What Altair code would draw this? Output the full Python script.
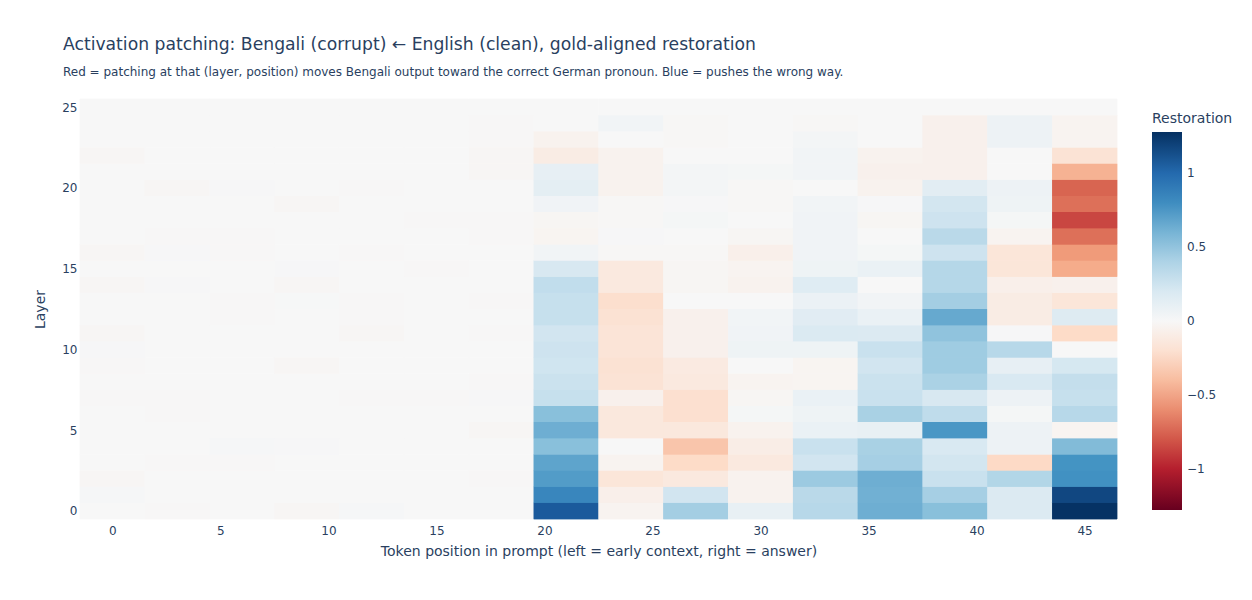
import altair as alt
import pandas as pd

# ---- data ----
positions = [0, 3, 6, 9, 12, 15, 18, 21, 24, 27, 30, 33, 36, 39, 42, 45]
layers = list(range(26))

# restoration values per token position, layer 0 -> 25
pos_0 = [0.0, 0.015, -0.015, 0.0, 0.0, 0.0, 0.0, -0.008, 0.0, -0.008, 0.008, -0.015, 0.0,
         0.0, -0.015, 0.0, -0.015, 0.0, 0.0, 0.0, 0.0, 0.0, -0.015, 0.0, 0.0, 0.0]
pos_3 = [-0.008, 0.0, 0.0, -0.008, 0.0, 0.0, -0.008, -0.008, 0.0, 0.0, 0.0, 0.0, 0.0,
         0.0, 0.008, 0.0, 0.008, -0.008, 0.0, 0.0, -0.015, 0.0, 0.0, 0.0, 0.0, 0.0]
pos_6 = [0.0, 0.0, 0.0, -0.005, 0.015, 0.0, 0.0, 0.0, 0.0, 0.0, 0.0, 0.0, -0.005,
         -0.005, 0.0, 0.0, -0.008, -0.008, 0.0, 0.0, 0.008, 0.0, 0.0, 0.0, 0.0, 0.0]
pos_9 = [-0.015, 0.0, 0.0, 0.0, 0.008, 0.0, 0.0, 0.0, 0.0, -0.015, 0.0, 0.0, 0.0,
         0.005, -0.015, 0.008, 0.0, 0.0, 0.0, -0.015, 0.0, 0.0, 0.0, 0.0, 0.0, 0.0]
pos_12 = [0.015, 0.0, 0.0, 0.0, 0.0, 0.0, 0.0, -0.008, 0.0, 0.0, 0.0, -0.015, -0.005,
          -0.008, 0.0, 0.0, -0.008, 0.0, 0.0, 0.0, -0.008, 0.0, 0.0, 0.0, 0.0, 0.0]
pos_15 = [0.0, 0.0, 0.0, 0.0, 0.0, 0.0, 0.0, -0.008, 0.0, 0.0, 0.0, 0.0, 0.0,
          0.0, 0.0, -0.008, 0.0, 0.0, -0.008, 0.0, 0.0, 0.0, 0.0, 0.0, 0.0, 0.0]
pos_18 = [0.0, 0.0, -0.008, 0.0, 0.0, -0.015, 0.0, 0.008, -0.008, 0.0, 0.0, -0.005, 0.0,
          -0.008, 0.0, 0.0, 0.0, -0.008, -0.008, 0.0, 0.0, -0.015, -0.015, -0.008, -0.008, 0.0]
pos_21 = [1.08, 0.84, 0.72, 0.68, 0.54, 0.63, 0.54, 0.30, 0.28, 0.26, 0.27, 0.25, 0.30,
          0.30, 0.32, 0.21, 0.04, -0.03, -0.02, 0.05, 0.13, 0.11, -0.10, -0.05, 0.0, 0.0]
pos_24 = [-0.04, -0.07, -0.16, -0.04, 0.0, -0.14, -0.14, -0.06, -0.18, -0.19, -0.17, -0.17, -0.19,
          -0.22, -0.13, -0.13, -0.01, 0.01, -0.01, -0.01, -0.05, -0.05, -0.05, 0.0, 0.04, 0.0]
pos_27 = [0.44, 0.25, -0.13, -0.25, -0.36, -0.14, -0.21, -0.21, -0.13, -0.12, -0.06, -0.06, -0.06,
          0.0, -0.02, -0.02, -0.01, 0.0, 0.02, 0.01, 0.03, 0.03, 0.0, -0.01, -0.01, 0.0]
pos_30 = [0.10, -0.05, -0.05, -0.13, -0.09, -0.05, 0.02, -0.02, -0.04, 0.0, 0.06, 0.05, 0.04,
          0.0, -0.05, -0.04, -0.07, -0.02, 0.0, -0.01, -0.01, 0.02, 0.0, 0.0, 0.0, 0.0]
pos_33 = [0.36, 0.35, 0.47, 0.25, 0.29, 0.09, 0.06, 0.09, -0.03, -0.03, 0.06, 0.19, 0.15,
          0.08, 0.16, 0.06, 0.05, 0.05, 0.05, 0.04, 0.0, 0.04, 0.04, 0.03, -0.01, 0.0]
pos_36 = [0.63, 0.62, 0.63, 0.43, 0.42, 0.10, 0.42, 0.29, 0.28, 0.25, 0.29, 0.18, 0.09,
          0.04, 0.0, 0.09, 0.02, 0.0, -0.02, 0.01, -0.05, -0.06, -0.05, 0.0, 0.0, 0.0]
pos_39 = [0.54, 0.43, 0.29, 0.24, 0.20, 0.745, 0.33, 0.21, 0.41, 0.46, 0.46, 0.52, 0.655,
          0.44, 0.37, 0.37, 0.27, 0.35, 0.27, 0.24, 0.14, -0.06, -0.06, -0.06, -0.06, 0.0]
pos_42 = [0.18, 0.18, 0.38, -0.26, 0.07, 0.07, 0.02, 0.07, 0.20, 0.11, 0.36, 0.01, -0.10,
          -0.10, -0.07, -0.16, -0.16, -0.04, 0.02, 0.06, 0.07, 0.0, 0.0, 0.07, 0.07, 0.0]
pos_45 = [1.27, 1.17, 0.78, 0.765, 0.565, -0.03, 0.36, 0.30, 0.31, 0.22, 0.0, -0.25, 0.17,
          -0.16, -0.06, -0.48, -0.55, -0.71, -0.86, -0.71, -0.75, -0.45, -0.18, -0.04, -0.04, 0.0]

columns = [pos_0, pos_3, pos_6, pos_9, pos_12, pos_15, pos_18, pos_21,
           pos_24, pos_27, pos_30, pos_33, pos_36, pos_39, pos_42, pos_45]

x_ticks = [0, 5, 10, 15, 20, 25, 30, 35, 40, 45]
y_ticks = [0, 5, 10, 15, 20, 25]
legend_ticks = [-1, -0.5, 0, 0.5, 1]

# RdBu colour stops (low = red, high = blue), spread evenly over +/- colour limit
rdbu = ["#67001f", "#b2182b", "#d6604d", "#f4a582", "#fddbc7", "#f7f7f7",
        "#d1e5f0", "#92c5de", "#4393c3", "#2166ac", "#053061"]
color_limit = 1.28

records = []
for p, col in zip(positions, columns):
    for layer, v in zip(layers, col):
        records.append({"position": p, "layer": layer, "restoration": v})
df = pd.DataFrame(records)

step = positions[1] - positions[0]
half = step / 2

TXT = "#2a3f5f"
FONT = "DejaVu Sans"

x_enc = alt.X(
    "x0:Q",
    scale=alt.Scale(domain=[positions[0] - half, positions[-1] + half], nice=False, zero=False),
    axis=alt.Axis(
        values=x_ticks,
        title="Token position in prompt (left = early context, right = answer)",
        labelPadding=6,
        titlePadding=8,
    ),
)
y_enc = alt.Y(
    "y0:Q",
    scale=alt.Scale(domain=[layers[0] - 0.5, layers[-1] + 0.5], nice=False, zero=False),
    axis=alt.Axis(values=y_ticks, title="Layer", labelPadding=3, titlePadding=14),
)

base = alt.Chart(df).transform_calculate(
    x0=f"datum.position - {half}",
    x1=f"datum.position + {half}",
    y0="datum.layer - 0.5",
    y1="datum.layer + 0.5",
    edge="datum.restoration",
)

# underlay: the same cells, used only to hide anti-aliasing seams between cells
underlay = base.mark_rect(strokeWidth=0.8).encode(
    x=x_enc,
    x2="x1:Q",
    y=y_enc,
    y2="y1:Q",
    color=alt.Color(
        "edge:Q",
        scale=alt.Scale(domain=[-color_limit, color_limit], range=rdbu, interpolate="rgb"),
        legend=None,
    ),
    stroke=alt.Stroke(
        "edge:Q",
        scale=alt.Scale(domain=[-color_limit, color_limit], range=rdbu, interpolate="rgb"),
        legend=None,
    ),
)

cells = base.mark_rect().encode(
    x=x_enc,
    x2="x1:Q",
    y=y_enc,
    y2="y1:Q",
    color=alt.Color(
        "restoration:Q",
        scale=alt.Scale(domain=[-color_limit, color_limit], range=rdbu, interpolate="rgb"),
        legend=alt.Legend(
            type="gradient",
            title="Restoration",
            orient="none",
            legendX=1072,
            legendY=13,
            direction="vertical",
            gradientLength=378,
            gradientThickness=30,
            gradientStrokeWidth=0,
            values=legend_ticks,
            format="~g",
            labelFontSize=12,
            labelColor=TXT,
            labelFont=FONT,
            labelOffset=5,
            titleFontSize=14,
            titleColor=TXT,
            titleFont=FONT,
            titleFontWeight="normal",
            titlePadding=6,
        ),
    ),
)

chart = (
    alt.layer(underlay, cells)
    .resolve_scale(color="independent")
    .properties(
        width=1037,
        height=420,
        background="white",
        autosize=alt.AutoSizeParams(type="none"),
        padding={"left": 80, "top": 99, "right": 135, "bottom": 81},
        title=alt.TitleParams(
            text="Activation patching: Bengali (corrupt) ← English (clean), gold-aligned restoration",
            subtitle="Red = patching at that (layer, position) moves Bengali output toward the correct German pronoun. Blue = pushes the wrong way.",
            anchor="start",
            frame="group",
            dx=-17,
            font=FONT,
            fontSize=17.2,
            fontWeight="normal",
            color=TXT,
            subtitleFont=FONT,
            subtitleFontSize=12,
            subtitleColor=TXT,
            subtitlePadding=13,
            offset=21,
        ),
    )
    .configure_view(stroke=None)
    .configure_axis(
        grid=False,
        domain=False,
        ticks=False,
        tickSize=0,
        labelFont=FONT,
        labelFontSize=12,
        labelColor=TXT,
        titleFont=FONT,
        titleFontSize=14,
        titleColor=TXT,
        titleFontWeight="normal",
    )
)

chart.save("out.html", embed_options={"renderer": "svg", "actions": False})
